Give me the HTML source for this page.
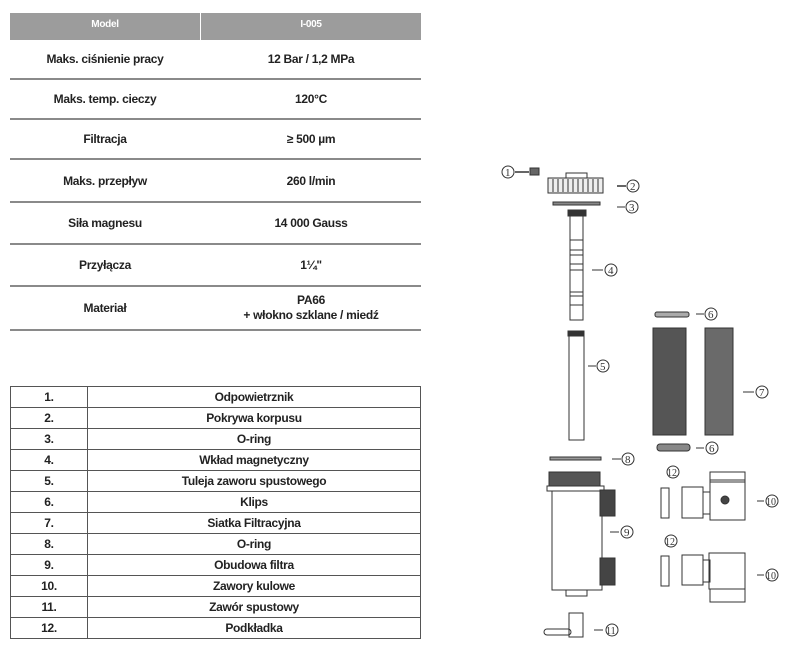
<!DOCTYPE html>
<html><head><meta charset="utf-8"><style>
body{margin:0;width:799px;height:658px;background:#fff;position:relative;overflow:hidden;font-family:"Liberation Sans",sans-serif;color:#222}
.t{position:absolute;font-weight:bold;font-size:12px;text-align:center;letter-spacing:-0.3px}
.hl{position:absolute;left:10px;width:411px;height:2px;background:#8a8a8a}
td{border:1px solid #555;height:20px;padding:0;line-height:20px}
</style></head><body>
<div style="position:absolute;left:10px;top:13px;width:411px;height:27px;background:#9c9c9c"></div>
<div style="position:absolute;left:200px;top:13px;width:1px;height:27px;background:#fff"></div>
<div class="t" style="left:10px;top:19px;width:190px;color:#fff;font-size:10px">Model</div>
<div class="t" style="left:201px;top:19px;width:220px;color:#fff;font-size:10px">I-005</div>

<div class="hl" style="top:78px"></div><div class="hl" style="top:118px"></div><div class="hl" style="top:158px"></div><div class="hl" style="top:201px"></div><div class="hl" style="top:243px"></div><div class="hl" style="top:285px"></div><div class="hl" style="top:329px"></div>

<div class="t" style="left:10px;top:52px;width:190px">Maks. ciśnienie pracy</div>
<div class="t" style="left:201px;top:52px;width:220px">12 Bar / 1,2 MPa</div>
<div class="t" style="left:10px;top:92px;width:190px">Maks. temp. cieczy</div>
<div class="t" style="left:201px;top:92px;width:220px">120°C</div>
<div class="t" style="left:10px;top:132px;width:190px">Filtracja</div>
<div class="t" style="left:201px;top:132px;width:220px">≥ 500 µm</div>
<div class="t" style="left:10px;top:174px;width:190px">Maks. przepływ</div>
<div class="t" style="left:201px;top:174px;width:220px">260 l/min</div>
<div class="t" style="left:10px;top:216px;width:190px">Siła magnesu</div>
<div class="t" style="left:201px;top:216px;width:220px">14 000 Gauss</div>
<div class="t" style="left:10px;top:258px;width:190px">Przyłącza</div>
<div class="t" style="left:201px;top:258px;width:220px">1¼"</div>
<div class="t" style="left:10px;top:301px;width:190px">Materiał</div>
<div class="t" style="left:201px;top:293px;width:220px;line-height:15px">PA66<br>+ włokno szklane / miedź</div>

<table style="position:absolute;left:10px;top:386px;width:411px;border-collapse:collapse;font-size:12px;font-weight:bold;text-align:center;letter-spacing:-0.3px">
<colgroup><col style="width:77px"><col></colgroup>
<tr><td>1.</td><td>Odpowietrznik</td></tr>
<tr><td>2.</td><td>Pokrywa korpusu</td></tr>
<tr><td>3.</td><td>O-ring</td></tr>
<tr><td>4.</td><td>Wkład magnetyczny</td></tr>
<tr><td>5.</td><td>Tuleja zaworu spustowego</td></tr>
<tr><td>6.</td><td>Klips</td></tr>
<tr><td>7.</td><td>Siatka Filtracyjna</td></tr>
<tr><td>8.</td><td>O-ring</td></tr>
<tr><td>9.</td><td>Obudowa filtra</td></tr>
<tr><td>10.</td><td>Zawory kulowe</td></tr>
<tr><td>11.</td><td>Zawór spustowy</td></tr>
<tr><td>12.</td><td>Podkładka</td></tr>
</table>

<svg style="position:absolute;left:0;top:0" width="799" height="658" viewBox="0 0 799 658" fill="none" stroke="#333" stroke-width="1" font-family="Liberation Serif,serif" font-size="11">
<g>
<circle cx="508" cy="172" r="6"/><text x="505" y="176" fill="#333" stroke="none">1</text>
<line x1="515" y1="172" x2="529" y2="172" stroke-width="1.5"/>
<rect x="530" y="168" width="9" height="7" fill="#666"/>
<rect x="566" y="173" width="21" height="5"/>
<rect x="548" y="178" width="55" height="15" fill="#eee"/>
<path d="M553 179v13M558 179v13M563 179v13M568 179v13M573 179v13M578 179v13M583 179v13M588 179v13M593 179v13M598 179v13"/>
<line x1="617" y1="186" x2="626" y2="186" stroke-width="1.5"/><circle cx="633" cy="186" r="6"/><text x="630" y="190" fill="#333" stroke="none">2</text>
<rect x="553" y="202" width="47" height="3" fill="#888"/>
<line x1="617" y1="207" x2="625" y2="207"/><circle cx="632" cy="207" r="6"/><text x="629" y="211" fill="#333" stroke="none">3</text>
<rect x="568" y="210" width="18" height="6" fill="#333"/>
<rect x="570" y="216" width="13" height="104"/>
<path d="M570 240h13M570 250h13M570 255h13M570 264h13M570 270h13M570 292h13M570 296h13M570 305h13"/>
<line x1="592" y1="270" x2="603" y2="270"/><circle cx="611" cy="270" r="6"/><text x="608" y="274" fill="#333" stroke="none">4</text>
<rect x="568" y="331" width="16" height="5" fill="#333"/>
<rect x="569" y="336" width="15" height="104"/>
<line x1="588" y1="366" x2="596" y2="366"/><circle cx="603" cy="366" r="6"/><text x="600" y="370" fill="#333" stroke="none">5</text>
<rect x="655" y="312" width="34" height="5" rx="2" fill="#aaa"/>
<line x1="696" y1="314" x2="704" y2="314"/><circle cx="711" cy="314" r="6"/><text x="708" y="318" fill="#333" stroke="none">6</text>
<rect x="653" y="328" width="33" height="107" fill="#555"/>
<rect x="705" y="328" width="28" height="107" fill="#6a6a6a"/>
<line x1="743" y1="392" x2="754" y2="392"/><circle cx="762" cy="392" r="6"/><text x="759" y="396" fill="#333" stroke="none">7</text>
<rect x="657" y="444" width="33" height="7" rx="3" fill="#888"/>
<line x1="696" y1="448" x2="704" y2="448"/><circle cx="712" cy="448" r="6"/><text x="709" y="452" fill="#333" stroke="none">6</text>
<rect x="550" y="457" width="51" height="3" fill="#999"/>
<line x1="612" y1="459" x2="621" y2="459"/><circle cx="628" cy="459" r="6"/><text x="625" y="463" fill="#333" stroke="none">8</text>
<rect x="549" y="472" width="51" height="14" fill="#555"/>
<rect x="547" y="486" width="57" height="5"/>
<rect x="552" y="491" width="50" height="99"/>
<rect x="566" y="590" width="21" height="6"/>
<rect x="600" y="490" width="15" height="26" fill="#444"/>
<rect x="600" y="558" width="15" height="27" fill="#444"/>
<line x1="610" y1="532" x2="619" y2="532"/><circle cx="627" cy="532" r="6"/><text x="624" y="536" fill="#333" stroke="none">9</text>
<rect x="569" y="613" width="14" height="24"/><rect x="544" y="629" width="27" height="6" rx="3"/>
<line x1="594" y1="630" x2="603" y2="630"/><circle cx="612" cy="630" r="6"/><text x="606" y="634" fill="#333" stroke="none" font-size="10">11</text>
<circle cx="673" cy="472" r="6"/><text x="667" y="476" fill="#333" stroke="none" font-size="10">12</text>
<rect x="661" y="488" width="8" height="30"/>
<rect x="682" y="487" width="21" height="31"/><rect x="703" y="492" width="7" height="22"/>
<rect x="710" y="480" width="35" height="40"/><rect x="710" y="472" width="35" height="10"/><circle cx="725" cy="500" r="4" fill="#444"/>
<line x1="757" y1="501" x2="764" y2="501"/><circle cx="772" cy="501" r="6"/><text x="766" y="505" fill="#333" stroke="none" font-size="10">10</text>
<circle cx="671" cy="541" r="6"/><text x="665" y="545" fill="#333" stroke="none" font-size="10">12</text>
<rect x="661" y="556" width="8" height="30"/>
<rect x="682" y="555" width="21" height="30"/><rect x="703" y="560" width="7" height="22"/>
<rect x="709" y="553" width="36" height="36"/><rect x="710" y="589" width="35" height="13"/>
<line x1="757" y1="575" x2="764" y2="575"/><circle cx="772" cy="575" r="6"/><text x="766" y="579" fill="#333" stroke="none" font-size="10">10</text>
</g></svg>
</body></html>
